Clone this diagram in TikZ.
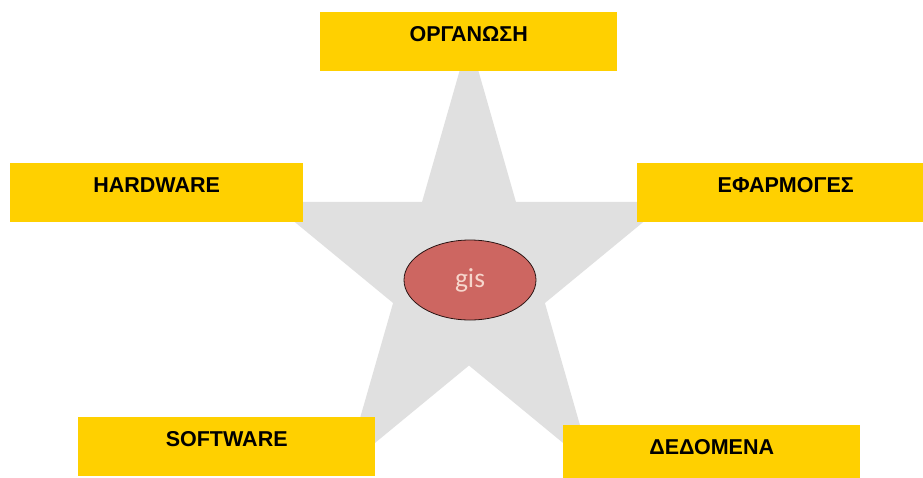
\documentclass[tikz,border=0pt]{standalone}
\usepackage{fontspec}
\usetikzlibrary{shapes.geometric}
\setmainfont{Liberation Sans}
\newfontfamily\carlitofont{Carlito}
\definecolor{boxyellow}{RGB}{255,208,0}
\definecolor{stargray}{RGB}{224,224,224}
\definecolor{gisred}{RGB}{205,102,97}
\definecolor{gistext}{RGB}{246,214,204}
\begin{document}
\begin{tikzpicture}[x=1pt,y=-1pt,
  box/.style={fill=boxyellow,draw=none,minimum width=297pt,minimum height=59pt,inner sep=0pt,anchor=north west},
  boxtext/.style={font=\fontsize{21.5}{24}\selectfont\bfseries,text=black,inner sep=0pt,anchor=base}]
\useasboundingbox (0,0) rectangle (923,477);
\fill[white] (0,0) rectangle (923,477);
% star
\fill[stargray] (469,38) -- (515.9,201.8) -- (667.8,201.8) -- (544.9,303) -- (591.9,466.7)
  -- (469,365.5) -- (346.1,466.7) -- (393.1,303) -- (270.2,201.8) -- (422.1,201.8) -- cycle;
% centre ellipse
\node[ellipse,draw=black!80!gisred,line width=0.8pt,fill=gisred,minimum width=132pt,minimum height=80pt,inner sep=0pt,
  font=\carlitofont\fontsize{27.5}{30}\selectfont,text=gistext] (gis) at (470,280) {gis};
% boxes
\node[box] (org) at (320,12) {};
\path (org.north) ++(0,29.5) node[boxtext] (orgt) {ΟΡΓΑΝΩΣΗ};
\node[box,minimum width=293pt] (hw) at (10,163) {};
\path (hw.north) ++(0,29.5) node[boxtext] (hwt) {HARDWARE};
\node[box] (app) at (637,163) {};
\path (app.north) ++(0,29.5) node[boxtext] (appt) {ΕΦΑΡΜΟΓΕΣ};
\node[box] (sw) at (78,417) {};
\path (sw.north) ++(0,29.5) node[boxtext] (swt) {SOFTWARE};
\node[box] (data) at (563,425) {};
\path (data.north) ++(0,29.5) node[boxtext] (datat) {ΔΕΔΟΜΕΝΑ};
\end{tikzpicture}
\end{document}
